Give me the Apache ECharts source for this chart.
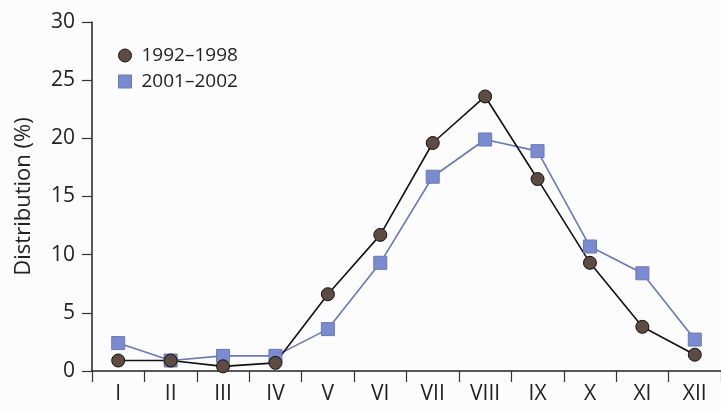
<!DOCTYPE html>
<html>
<head>
<meta charset="utf-8">
<script src="https://cdn.jsdelivr.net/npm/echarts@6/dist/echarts.min.js"></script>
<style>html,body{margin:0;padding:0;background:#fcfcfc;}#c{width:721px;height:411px;}</style>
</head>
<body>
<div id="c"></div>
<script>
const months = ['I','II','III','IV','V','VI','VII','VIII','IX','X','XI','XII'];
const series1992 = [0.9, 0.9, 0.4, 0.7, 6.6, 11.7, 19.6, 23.6, 16.5, 9.3, 3.8, 1.4];
const series2001 = [2.4, 0.9, 1.3, 1.3, 3.6, 9.3, 16.7, 19.9, 18.9, 10.7, 8.4, 2.7];
const yTicks = [0, 5, 10, 15, 20, 25, 30];
const labels = ['1992–1998', '2001–2002'];

const font = 'Open Sans';
const chart = echarts.init(document.getElementById('c'));
chart.setOption({
  backgroundColor: '#fcfcfc',
  animation: false,
  grid: { left: 92, top: 22, bottom: 40, right: -3, containLabel: false },
  legend: {
    orient: 'vertical', left: 113, top: 41, itemGap: 7,
    itemWidth: 13, itemHeight: 13,
    textStyle: { fontFamily: font, fontSize: 19, color: '#222', padding: [0, 0, 0, 5] },
    data: [
      { name: labels[0], icon: 'circle', itemStyle: { color: '#5e4b42', borderColor: '#111', borderWidth: 1 } },
      { name: labels[1], icon: 'rect', itemStyle: { color: '#7b8bcf', borderColor: '#6a78b8', borderWidth: 1 } }
    ]
  },
  xAxis: {
    type: 'category', data: months, boundaryGap: true,
    axisLine: { lineStyle: { color: '#222', width: 1.5 } },
    axisTick: { show: true, length: 11, lineStyle: { color: '#333', width: 1.2 } },
    axisLabel: { fontFamily: font, fontSize: 21, color: '#222', margin: 13 },
    splitLine: { show: false }
  },
  yAxis: {
    type: 'value', min: yTicks[0], max: yTicks[yTicks.length - 1], interval: 5,
    name: 'Distribution (%)', nameLocation: 'middle', nameGap: 57,
    nameTextStyle: { fontFamily: font, fontSize: 22, color: '#222' },
    axisLine: { show: true, lineStyle: { color: '#222', width: 1.5 } },
    axisTick: { show: true, length: 10, lineStyle: { color: '#333', width: 1.2 } },
    axisLabel: { fontFamily: font, fontSize: 21, color: '#222', margin: 17 },
    splitLine: { show: false }
  },
  series: [
    {
      name: labels[1], type: 'line', data: series2001,
      symbol: 'rect', symbolSize: 13,
      lineStyle: { color: '#6a78b8', width: 1.6 },
      itemStyle: { color: '#7b8bcf', borderColor: '#6a78b8', borderWidth: 1 }
    },
    {
      name: labels[0], type: 'line', data: series1992,
      symbol: 'circle', symbolSize: 13,
      lineStyle: { color: '#111', width: 1.6 },
      itemStyle: { color: '#5e4b42', borderColor: '#111', borderWidth: 1 }
    }
  ]
});
</script>
</body>
</html>
